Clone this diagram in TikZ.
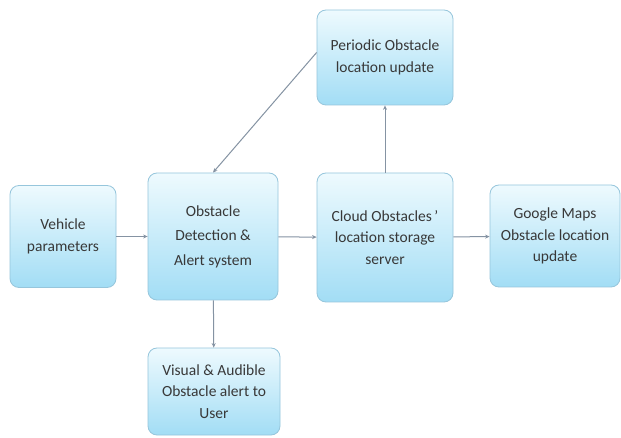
\documentclass[tikz,border=0pt]{standalone}
\usepackage{fontspec}
\setmainfont{Carlito}
\usetikzlibrary{arrows.meta}
\definecolor{boxtop}{HTML}{EEFAFE}
\definecolor{boxbot}{HTML}{A2DDF5}
\definecolor{boxedge}{HTML}{96C6DC}
\definecolor{linec}{HTML}{8593A3}
\definecolor{txt}{HTML}{383838}
\tikzset{
  box/.style={draw=boxedge, line width=0.8pt, rounded corners=9pt,
    top color=boxtop, bottom color=boxbot, align=center,
    font=\fontsize{15.5}{21.5}\selectfont, text=txt, inner sep=2pt},
  conn/.style={draw=linec, line width=1pt, -{Stealth[length=4.5pt,width=4pt]}}
}
\begin{document}
\begin{tikzpicture}[x=1pt,y=-1pt]
\useasboundingbox (0,0) rectangle (621,438);
\fill[white] (0,0) rectangle (621,438);
\node[box, minimum width=106pt, minimum height=102pt] (V) at (63,236.5) {Vehicle\\parameters};
\node[box, minimum width=130pt, minimum height=127pt, font=\fontsize{15.5}{24.5}\selectfont] (O) at (213,236.5) {Obstacle\\Detection \&\\Alert system};
\node[box, minimum width=136pt, minimum height=129pt] (C) at (385,237.5) {Cloud Obstacles\,'\\location storage\\server};
\node[box, minimum width=136pt, minimum height=95pt] (P) at (385,57.5) {Periodic Obstacle\\location update};
\node[box, minimum width=130pt, minimum height=102pt] (G) at (555,236) {Google Maps\\Obstacle location\\update};
\node[box, minimum width=132pt, minimum height=87pt] (A) at (214,391.5) {Visual \& Audible\\Obstacle alert to\\User};
\draw[conn] (V) -- (O);
\draw[conn] (O) -- (C);
\draw[conn] (C) -- (G);
\draw[conn] (C) -- (P);
\draw[conn] (O) -- (A);
\coordinate (ps) at ([yshift=5pt]P.west);
\draw[conn] (ps) -- (O.north);
\end{tikzpicture}
\end{document}
